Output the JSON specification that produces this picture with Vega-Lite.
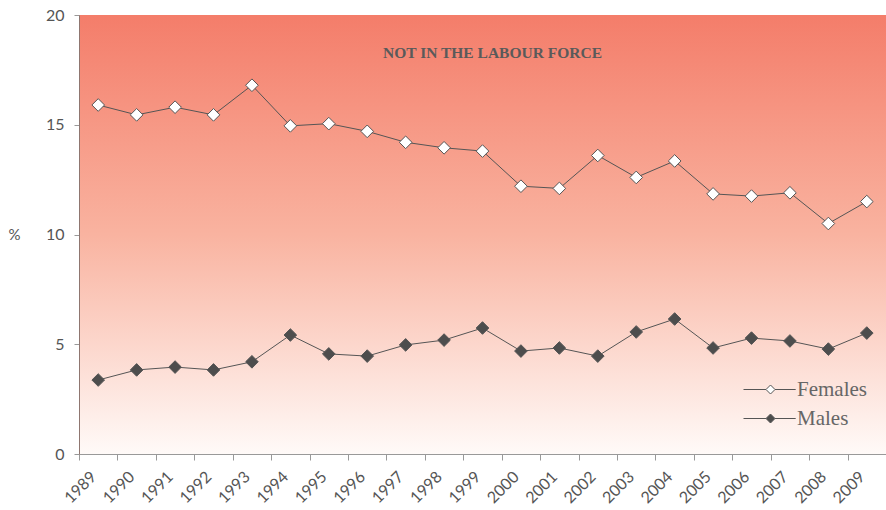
{
  "$schema": "https://vega.github.io/schema/vega-lite/v6.json",
  "width": 807,
  "height": 439,
  "autosize": {"type": "none"},
  "padding": {"left": 79, "top": 15, "right": 0, "bottom": 56},
  "background": "white",
  "title": {
    "text": "NOT IN THE LABOUR FORCE",
    "anchor": "middle",
    "orient": "top",
    "offset": -54,
    "dx": 10,
    "font": "Liberation Serif",
    "fontSize": 15.5,
    "fontWeight": "bold",
    "color": "#5a5a5a"
  },
  "data": {
    "values": [
      {"year": "1989", "sex": "Females", "value": 15.9},
      {"year": "1990", "sex": "Females", "value": 15.45},
      {"year": "1991", "sex": "Females", "value": 15.8},
      {"year": "1992", "sex": "Females", "value": 15.45},
      {"year": "1993", "sex": "Females", "value": 16.8},
      {"year": "1994", "sex": "Females", "value": 14.95},
      {"year": "1995", "sex": "Females", "value": 15.05},
      {"year": "1996", "sex": "Females", "value": 14.7},
      {"year": "1997", "sex": "Females", "value": 14.2},
      {"year": "1998", "sex": "Females", "value": 13.95},
      {"year": "1999", "sex": "Females", "value": 13.8},
      {"year": "2000", "sex": "Females", "value": 12.2},
      {"year": "2001", "sex": "Females", "value": 12.1},
      {"year": "2002", "sex": "Females", "value": 13.6},
      {"year": "2003", "sex": "Females", "value": 12.6},
      {"year": "2004", "sex": "Females", "value": 13.35},
      {"year": "2005", "sex": "Females", "value": 11.85},
      {"year": "2006", "sex": "Females", "value": 11.75},
      {"year": "2007", "sex": "Females", "value": 11.9},
      {"year": "2008", "sex": "Females", "value": 10.5},
      {"year": "2009", "sex": "Females", "value": 11.5},
      {"year": "1989", "sex": "Males", "value": 3.37},
      {"year": "1990", "sex": "Males", "value": 3.83},
      {"year": "1991", "sex": "Males", "value": 3.96},
      {"year": "1992", "sex": "Males", "value": 3.83},
      {"year": "1993", "sex": "Males", "value": 4.2},
      {"year": "1994", "sex": "Males", "value": 5.42},
      {"year": "1995", "sex": "Males", "value": 4.56},
      {"year": "1996", "sex": "Males", "value": 4.46},
      {"year": "1997", "sex": "Males", "value": 4.97},
      {"year": "1998", "sex": "Males", "value": 5.19},
      {"year": "1999", "sex": "Males", "value": 5.74},
      {"year": "2000", "sex": "Males", "value": 4.69},
      {"year": "2001", "sex": "Males", "value": 4.83},
      {"year": "2002", "sex": "Males", "value": 4.46},
      {"year": "2003", "sex": "Males", "value": 5.56},
      {"year": "2004", "sex": "Males", "value": 6.15},
      {"year": "2005", "sex": "Males", "value": 4.83},
      {"year": "2006", "sex": "Males", "value": 5.28},
      {"year": "2007", "sex": "Males", "value": 5.15},
      {"year": "2008", "sex": "Males", "value": 4.78},
      {"year": "2009", "sex": "Males", "value": 5.51}
    ]
  },
  "config": {
    "view": {
      "stroke": null,
      "fill": {
        "gradient": "linear",
        "x1": 0, "y1": 0, "x2": 0, "y2": 1,
        "stops": [
          {"offset": 0, "color": "#F47D6A"},
          {"offset": 0.5, "color": "#F9B3A0"},
          {"offset": 1, "color": "#FFFAF8"}
        ]
      }
    }
  },
  "encoding": {
    "x": {
      "field": "year",
      "type": "ordinal",
      "scale": {"type": "band", "paddingInner": 0, "paddingOuter": 0},
      "axis": {
        "title": null,
        "tickBand": "extent",
        "labelAngle": -45,
        "labelAlign": "right",
        "labelBaseline": "middle",
        "labelPadding": 14,
        "labelOffset": -5,
        "labelFont": "Lato",
        "labelFontSize": 16,
        "labelColor": "#555555",
        "domainColor": "#999999",
        "tickColor": "#999999",
        "tickSize": 6,
        "grid": false
      }
    },
    "y": {
      "field": "value",
      "type": "quantitative",
      "scale": {"domain": [0, 20], "nice": false},
      "axis": {
        "values": [0, 5, 10, 15, 20],
        "title": "%",
        "titleAngle": 0,
        "titleX": -71,
        "titleY": 219,
        "titleAlign": "left",
        "titleBaseline": "middle",
        "titleFont": "Lato",
        "titleFontSize": 15,
        "titleFontWeight": "normal",
        "titleColor": "#555555",
        "labelFont": "Lato",
        "labelFontSize": 16,
        "labelColor": "#555555",
        "labelPadding": 10,
        "domainColor": "#8f7670",
        "tickColor": "#999999",
        "tickSize": 5,
        "grid": false
      }
    }
  },
  "layer": [
    {
      "mark": {"type": "line", "color": "#555555", "strokeWidth": 1},
      "encoding": {"detail": {"field": "sex"}}
    },
    {
      "mark": {"type": "point", "shape": "diamond", "filled": true, "size": 160, "stroke": "#555555", "strokeWidth": 1, "opacity": 1},
      "encoding": {
        "fill": {
          "field": "sex",
          "type": "nominal",
          "scale": {"domain": ["Females", "Males"], "range": ["#ffffff", "#4d4d4d"]},
          "legend": {
            "title": null,
            "orient": "none",
            "legendX": 681,
            "legendY": 364,
            "padding": 0,
            "symbolType": "M-6,0L-1,0M1,0L5.6,0M-1,0L0,-1L1,0L0,1Z",
            "symbolSize": 81,
            "symbolStrokeColor": "#555555",
            "symbolStrokeWidth": 1,
            "symbolOpacity": 1,
            "labelOffset": 16,
            "labelFont": "Liberation Serif",
            "labelFontSize": 21,
            "labelColor": "#666666",
            "rowPadding": 7
          }
        }
      }
    }
  ]
}
